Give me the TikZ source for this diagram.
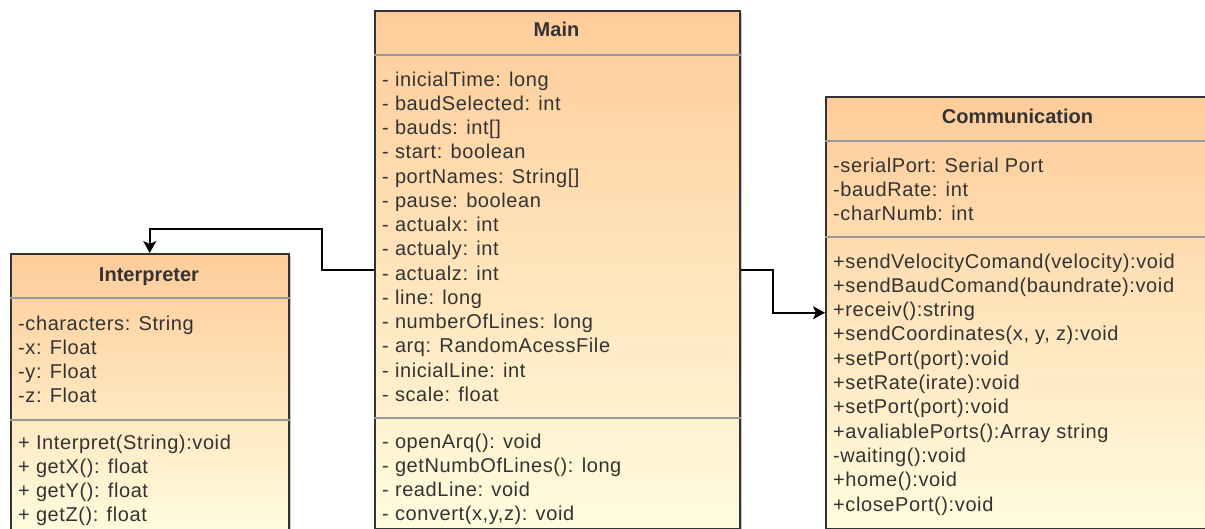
\documentclass[tikz,border=0pt]{standalone}
\usepackage{fontspec}
\setmainfont{Liberation Sans}
\newfontfamily\memberfont[LetterSpace=3]{Liberation Sans}
\usetikzlibrary{arrows.meta}
\definecolor{umlTop}{RGB}{255,204,153}
\definecolor{umlBottom}{RGB}{255,252,222}
\definecolor{umlText}{RGB}{51,51,51}
\tikzset{
	classbox/.style={draw=black!80, line width=1.5pt, top color=umlTop, bottom color=umlBottom, anchor=north west, inner sep=0pt},
	boxshadow/.style={fill=black!22},
	sepline/.style={draw=black!40, line width=1.5pt},
	member/.style={anchor=base west, inner sep=0pt, text=umlText, font=\fontsize{20}{24}\memberfont},
	classname/.style={anchor=base, inner sep=0pt, text=umlText, font=\fontsize{20}{24}\selectfont\bfseries},
	assoc/.style={draw=black, line width=1.5pt, -{Stealth[length=12pt, width=13pt, inset=3pt]}}
}

\begin{document}
\begin{tikzpicture}[x=1pt, y=-1pt]
		%%%%% START %%%%%
		\useasboundingbox (0, 0) rectangle (1205, 528);
		\clip (0, 0) rectangle (1205, 528);
		
		\fill[boxshadow] (13, 256) rectangle (291, 533);
		\fill[boxshadow] (377, 13) rectangle (742, 531);
		\fill[boxshadow] (828, 99) rectangle (1213, 531);
		
		\node[classbox, minimum width=278pt, minimum height=277pt] (interp) at (10, 253) {};
		\node[classbox, minimum width=365pt, minimum height=518pt] (main) at (374, 10) {};
		\node[classbox, minimum width=385pt, minimum height=432pt] (comm) at (825, 96) {};
		
		\draw[sepline] ([yshift=-45pt]interp.north west) -- ([yshift=-45pt]interp.north east);
		\draw[sepline] ([yshift=-167pt]interp.north west) -- ([yshift=-167pt]interp.north east);
		\draw[sepline] ([yshift=-45pt]main.north west) -- ([yshift=-45pt]main.north east);
		\draw[sepline] ([yshift=-408pt]main.north west) -- ([yshift=-408pt]main.north east);
		\draw[sepline] ([yshift=-45pt]comm.north west) -- ([yshift=-45pt]comm.north east);
		\draw[sepline] ([yshift=-141pt]comm.north west) -- ([yshift=-141pt]comm.north east);
		
		% Interpreter
		\node[classname] (interpName) at (149, 281) {Interpreter};
		\node[member] (characters) at (18, 330) {-characters: String};
		\node[member] (attrX) at (18, 354) {-x: Float};
		\node[member] (attrY) at (18, 378) {-y: Float};
		\node[member] (attrZ) at (18, 402) {-z: Float};
		\node[member] (interpret) at (18, 449) {+ Interpret(String):void};
		\node[member] (getX) at (18, 473) {+ getX(): float};
		\node[member] (getY) at (18, 497) {+ getY(): float};
		\node[member] (getZ) at (18, 521) {+ getZ(): float};
		
		% Main
		\node[classname] (mainName) at (556.5, 36) {Main};
		\node[member] (inicialTime) at (382, 86) {- inicialTime: long};
		\node[member] (baudSelected) at (382, 110.25) {- baudSelected: int};
		\node[member] (bauds) at (382, 134.5) {- bauds: int[]};
		\node[member] (start) at (382, 158.75) {- start: boolean};
		\node[member] (portNames) at (382, 183) {- portNames: String[]};
		\node[member] (pause) at (382, 207.25) {- pause: boolean};
		\node[member] (actualx) at (382, 231.5) {- actualx: int};
		\node[member] (actualy) at (382, 255.75) {- actualy: int};
		\node[member] (actualz) at (382, 280) {- actualz: int};
		\node[member] (line) at (382, 304.25) {- line: long};
		\node[member] (numberOfLines) at (382, 328.5) {- numberOfLines: long};
		\node[member] (arq) at (382, 352.75) {- arq: RandomAcessFile};
		\node[member] (inicialLine) at (382, 377) {- inicialLine: int};
		\node[member] (scale) at (382, 401.25) {- scale: float};
		\node[member] (openArq) at (382, 448) {- openArq(): void};
		\node[member] (getNumbOfLines) at (382, 472) {- getNumbOfLines(): long};
		\node[member] (readLine) at (382, 496) {- readLine: void};
		\node[member] (convert) at (382, 520) {- convert(x,y,z): void};
		
		% Communication
		\node[classname] (commName) at (1017.5, 123) {Communication};
		\node[member] (serialPort) at (833, 172) {-serialPort: Serial Port};
		\node[member] (baudRate) at (833, 196) {-baudRate: int};
		\node[member] (charNumb) at (833, 220) {-charNumb: int};
		\node[member] (sendVelocity) at (833, 268) {+sendVelocityComand(velocity):void};
		\node[member] (sendBaud) at (833, 292.3) {+sendBaudComand(baundrate):void};
		\node[member] (receiv) at (833, 316.6) {+receiv():string};
		\node[member] (sendCoordinates) at (833, 340.9) {+sendCoordinates(x, y, z):void};
		\node[member] (setPortA) at (833, 365.2) {+setPort(port):void};
		\node[member] (setRate) at (833, 389.5) {+setRate(irate):void};
		\node[member] (setPortB) at (833, 413.8) {+setPort(port):void};
		\node[member] (avaliablePorts) at (833, 438.1) {+avaliablePorts():Array string};
		\node[member] (waiting) at (833, 462.4) {-waiting():void};
		\node[member] (home) at (833, 486.7) {+home():void};
		\node[member] (closePort) at (833, 511) {+closePort():void};
		
		% connectors
		\coordinate (bendA) at (322, 229);
		\coordinate (bendB) at (773, 290);
		\draw[assoc] (main.west) -| (bendA) -| (interp.north);
		\draw[assoc] (main.east) -| (bendB) |- (comm.west);
		
		%%%%% END %%%%%
\end{tikzpicture}
\end{document}
